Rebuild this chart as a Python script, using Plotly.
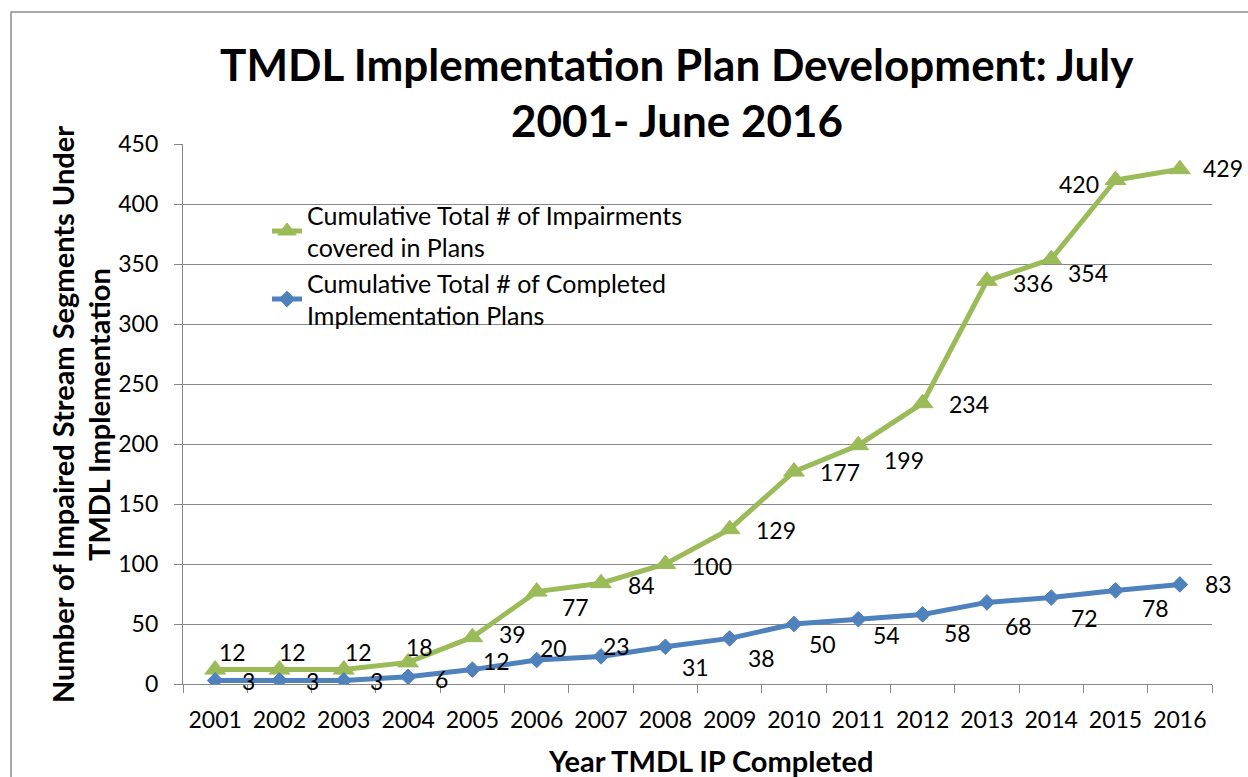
import plotly.graph_objects as go

# ── data ────────────────────────────────────────────────────────────────────
YEARS = ["2001", "2002", "2003", "2004", "2005", "2006", "2007", "2008",
         "2009", "2010", "2011", "2012", "2013", "2014", "2015", "2016"]
IMPAIRMENTS = [12, 12, 12, 18, 39, 77, 84, 100, 129, 177, 199, 234, 336, 354, 420, 429]
COMPLETED = [3, 3, 3, 6, 12, 20, 23, 31, 38, 50, 54, 58, 68, 72, 78, 83]

NAME_IMP = "Cumulative Total # of Impairments<br>covered in Plans"
NAME_CMP = "Cumulative Total # of Completed<br>Implementation Plans"
Y_TICKS = [0, 50, 100, 150, 200, 250, 300, 350, 400, 450]

GREEN = "#9BBB59"
BLUE = "#4F81BD"
GRID = "#878787"
FONT = "Lato"

# data-label nudges (px right, px down) — Excel placed these by hand
IMP_NUDGE = [(17, -18), (13, -18), (15, -18), (11, -15), (40, -3), (39, 15),
             (40, 2), (47, 2), (46, 1), (46, 0), (46, 15), (46, 1), (46, 2),
             (37, 14), (-37, 4), (43, -1)]
CMP_NUDGE = [(33, 1), (33, 1), (33, 1), (33, 2), (24, -9), (17, -12),
             (15, -10), (30, 20), (32, 20), (29, 20), (28, 16), (35, 19),
             (32, 24), (33, 20), (40, 18), (39, 0)]

# page layout in pixels
W, H = 1248, 777
L, R, T, B = 183, 1212, 144, 684   # plot box


def px_x(x):
    return (x - L) / (R - L)


def px_y(y):
    return (B - y) / (B - T)


fig = go.Figure()

fig.add_trace(go.Scatter(
    x=YEARS, y=IMPAIRMENTS, name=NAME_IMP, mode="lines+markers",
    line=dict(color=GREEN, width=5),
    marker=dict(symbol="triangle-up", size=18, color=GREEN,
                line=dict(color=GREEN, width=1)),
))
fig.add_trace(go.Scatter(
    x=YEARS, y=COMPLETED, name=NAME_CMP, mode="lines+markers",
    line=dict(color=BLUE, width=5),
    marker=dict(symbol="diamond", size=12, color=BLUE,
                line=dict(color=BLUE, width=1)),
))

# data labels (category axis: position by index)
for vals, nudge in ((IMPAIRMENTS, IMP_NUDGE), (COMPLETED, CMP_NUDGE)):
    for i, (v, (dx, dy)) in enumerate(zip(vals, nudge)):
        fig.add_annotation(x=i, y=v, text=str(v), showarrow=False,
                           xanchor="center", yanchor="middle",
                           xshift=dx, yshift=-dy,
                           font=dict(family=FONT, size=23, color="black"))


# titles
def text_at(x, y, text, size, angle=0):
    fig.add_annotation(xref="paper", yref="paper", x=px_x(x), y=px_y(y),
                       xanchor="center", yanchor="middle", text=text,
                       textangle=angle, showarrow=False,
                       font=dict(family=FONT, size=size, color="black"))


text_at(677, 64, "<b>TMDL Implementation Plan Development: July</b>", 44)
text_at(677, 120, "<b>2001- June 2016</b>", 44)
text_at(710, 760, "<b>Year TMDL IP Completed</b>", 29)
text_at(63, 415, "<b>Number of Impaired Stream Segments Under</b>", 29, -90)
text_at(99, 415, "<b>TMDL Implementation</b>", 29, -90)

# chart-area border and legend backdrop
fig.add_shape(type="rect", xref="paper", yref="paper",
              x0=px_x(11), y0=px_y(12), x1=px_x(1280), y1=px_y(800),
              line=dict(color="#8c8c8c", width=1.5), layer="below")
fig.add_shape(type="rect", xref="paper", yref="paper",
              x0=px_x(217), y0=px_y(190), x1=px_x(690), y1=px_y(335),
              fillcolor="white", line=dict(width=0), layer="between")

fig.update_xaxes(
    type="category", range=[-0.5, len(YEARS) - 0.5],
    showline=True, linecolor=GRID, linewidth=1.3,
    ticks="outside", tickson="boundaries", ticklen=8, tickcolor=GRID,
    tickwidth=1.3, showgrid=False, ticklabelstandoff=15,
    tickfont=dict(family=FONT, size=23, color="black"),
)
fig.update_yaxes(
    range=[0, 450], tickmode="array", tickvals=Y_TICKS,
    showline=True, linecolor=GRID, linewidth=1.3,
    ticks="outside", ticklen=8, tickcolor=GRID, tickwidth=1.3,
    showgrid=True, gridcolor=GRID, gridwidth=1.3, zeroline=False,
    ticklabelstandoff=11,
    tickfont=dict(family=FONT, size=23, color="black"),
)

fig.update_layout(
    width=W, height=H,
    margin=dict(l=L, r=W - R, t=T, b=H - B),
    paper_bgcolor="white", plot_bgcolor="white",
    showlegend=True,
    legend=dict(
        x=px_x(267), y=px_y(192), xanchor="left", yanchor="top",
        bgcolor="rgba(0,0,0,0)", font=dict(family=FONT, size=25, color="black"),
        tracegroupgap=0,
    ),
    font=dict(family=FONT),
)

# drop the browser's default body margin so the figure fills the window
fig.write_html("out.html", config={"displayModeBar": False},
               post_script="document.body.style.margin = '0px';")
